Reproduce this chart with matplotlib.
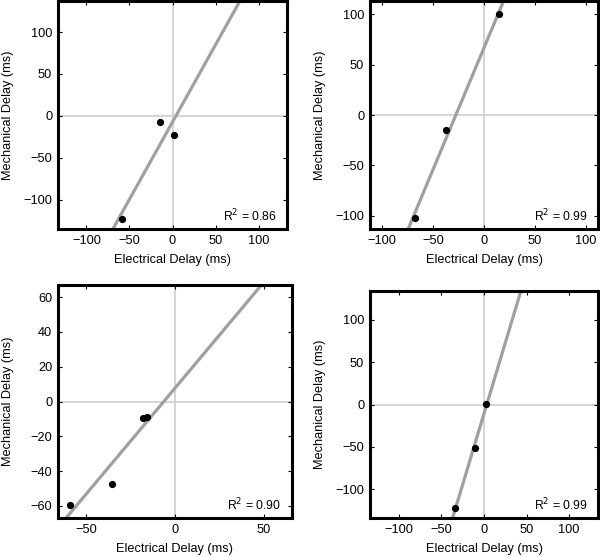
import numpy as np
import matplotlib
matplotlib.use("Agg")
import matplotlib.pyplot as plt

plt.rcParams['font.family'] = ['Liberation Sans', 'DejaVu Sans']
plt.rcParams['font.size'] = 9.2

# electrical / mechanical delay (ms) for each panel
elec_a = [-59, -14, 2]
mech_a = [-123, -7, -23]
elec_b = [15, -37, -68]
mech_b = [100, -15, -102]
elec_c = [-59.5, -35.5, -18, -15.7]
mech_c = [-59.5, -47.4, -9.6, -9.2]
elec_d = [2, -10, -34]
mech_d = [0.5, -51, -122]

r2_labels = ['0.86', '0.99', '0.90', '0.99']
xlims = [(-133, 133), (-112, 112), (-66, 66), (-134, 134)]
ylims = [(-135, 137), (-113, 113), (-67, 67), (-134, 134)]
xticks = [[-100, -50, 0, 50, 100], [-100, -50, 0, 50, 100], [-50, 0, 50], [-100, -50, 0, 50, 100]]
yticks = [[-100, -50, 0, 50, 100], [-100, -50, 0, 50, 100], [-60, -40, -20, 0, 20, 40, 60], [-100, -50, 0, 50, 100]]

# axes boxes in pixels: left, top, right, bottom
boxes = [(58, 1, 287, 229), (370, 1, 598, 229), (58, 285, 292, 518), (370, 291, 598, 518)]
xlabel_y = [260, 260, 549, 549]

W, H = 600, 557
fig = plt.figure(figsize=(6, 5.57), dpi=100)

data = [(elec_a, mech_a), (elec_b, mech_b), (elec_c, mech_c), (elec_d, mech_d)]

for i, (ex, me) in enumerate(data):
    l, t, r, b = boxes[i]
    ax = fig.add_axes([l / W, 1 - b / H, (r - l) / W, (b - t) / H])
    ax.axhline(0, color='#d2d2d2', lw=1.3, zorder=1)
    ax.axvline(0, color='#d2d2d2', lw=1.3, zorder=1)

    # least squares line over full x range
    k, n = np.polyfit(ex, me, 1)
    xs = np.array(xlims[i])
    ax.plot(xs, k * xs + n, color='#a0a0a0', lw=2.3, zorder=2, solid_capstyle='butt')
    ax.plot(ex, me, 'o', color='black', ms=4.2, zorder=3)

    ax.set_xlim(xlims[i])
    ax.set_ylim(ylims[i])
    ax.set_xticks(xticks[i])
    ax.set_yticks(yticks[i])
    ax.tick_params(direction='in', top=True, right=True, length=3, width=0.8,
                   labelsize=9.2, pad=4.2)
    for s in ax.spines.values():
        s.set_linewidth(2.2)

    ax.set_ylabel('Mechanical Delay (ms)')
    ax.yaxis.set_label_coords(-50 / (r - l), 0.5)
    ax.set_xlabel('Electrical Delay (ms)')
    ax.xaxis.set_label_coords(0.5, -(xlabel_y[i] - b) / (b - t))
    ax.xaxis.label.set_va('center')
    ax.yaxis.label.set_va('center')

    ax.annotate('R$^2$ = ' + r2_labels[i], xy=(1, 0), xycoords='axes fraction',
                xytext=(-7.5, 5.5), textcoords='offset points',
                ha='right', va='baseline', fontsize=8.8)

plt.savefig('out.png', dpi=100)
